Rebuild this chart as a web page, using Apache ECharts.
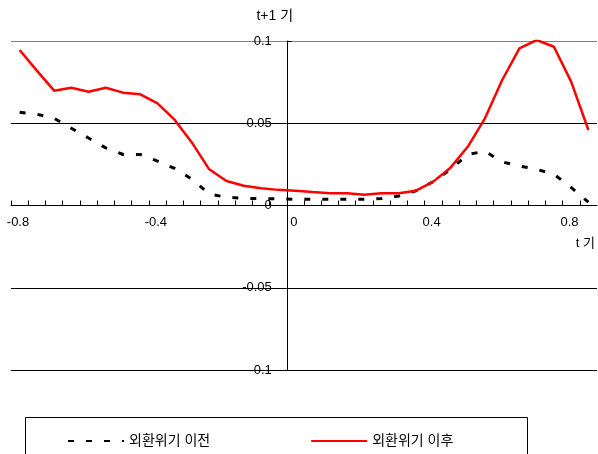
<!DOCTYPE html>
<html>
<head>
<meta charset="utf-8">
<script src="https://cdn.jsdelivr.net/npm/echarts@6/dist/echarts.min.js"></script>
<style>
  html, body { margin: 0; padding: 0; background: #fff; }
  #chart { width: 598px; height: 454px; }
</style>
</head>
<body>
<div id="chart"></div>
<script>
// t 기 (x) values, bin centres
var xVals = [-0.775, -0.725, -0.675, -0.625, -0.575, -0.525, -0.475, -0.425, -0.375, -0.325,
             -0.275, -0.225, -0.175, -0.125, -0.075, -0.025, 0.025, 0.075, 0.125, 0.175,
             0.225, 0.275, 0.325, 0.375, 0.425, 0.475, 0.525, 0.575, 0.625, 0.675,
             0.725, 0.775, 0.825, 0.875];
// 외환위기 이전
var beforeVals = [0.0567, 0.0555, 0.053, 0.047, 0.041, 0.035, 0.031, 0.031, 0.027, 0.0225,
                  0.016, 0.007, 0.005, 0.0044, 0.0042, 0.004, 0.0038, 0.0038, 0.0038, 0.0038,
                  0.0038, 0.0042, 0.0058, 0.009, 0.0145, 0.022, 0.031, 0.033, 0.0265, 0.024,
                  0.022, 0.019, 0.011, 0.002];
// 외환위기 이후
var afterVals = [0.0945, 0.082, 0.0698, 0.0716, 0.0692, 0.0716, 0.0686, 0.0676, 0.0621, 0.052,
                 0.0382, 0.022, 0.0149, 0.012, 0.0105, 0.0095, 0.009, 0.0082, 0.0075, 0.0074,
                 0.0066, 0.0074, 0.0075, 0.009, 0.0145, 0.023, 0.0357, 0.053, 0.0763, 0.0955,
                 0.1006, 0.0965, 0.0753, 0.0459];
var xLabels = [-0.8, -0.4, 0, 0.4, 0.8];
var seriesNames = ['외환위기 이전', '외환위기 이후'];

var font = '"Liberation Sans", Arial, "Noto Sans CJK KR", sans-serif';

// plot box
var G = { left: 11, right: 1, top: 41, bottom: 84, w: 586, h: 329 };
var xMin = -0.8, xMax = 0.9, yMin = -0.1, yMax = 0.1;
// axes cross at (0, 0): shift them there
var yAxisShift = (0 - xMin) / (xMax - xMin) * G.w;
var xAxisShift = (0 - yMin) / (yMax - yMin) * G.h;

function pairs(ys) {
    return xVals.map(function (x, i) { return [x, ys[i]]; });
}

var chart = echarts.init(document.getElementById('chart'));
var option = {
    animation: false,
    textStyle: { fontFamily: font },
    grid: {
        left: G.left,
        right: G.right,
        top: G.top,
        bottom: G.bottom,
        outerBoundsMode: 'none'
    },
    legend: {
        left: 62,
        top: 429,
        itemWidth: 56,
        itemHeight: 14,
        itemGap: 100,
        itemStyle: { color: 'transparent', borderWidth: 0 },
        textStyle: { fontSize: 14, color: '#000', fontFamily: font },
        data: seriesNames
    },
    graphic: [
        {
            type: 'rect',
            shape: { x: 25.5, y: 417.5, width: 502, height: 60 },
            style: { fill: 'none', stroke: '#000', lineWidth: 1 }
        }
    ],
    xAxis: {
        type: 'value',
        min: xMin,
        max: xMax,
        interval: 0.05,
        position: 'bottom',
        offset: -xAxisShift,
        name: 't 기',
        nameLocation: 'end',
        nameGap: -2,
        nameTextStyle: {
            fontSize: 13, color: '#000', align: 'right', verticalAlign: 'top',
            padding: [31, 0, 0, 0]
        },
        axisLine: { onZero: false, lineStyle: { color: '#000', width: 1 } },
        axisTick: { inside: true, length: 5, lineStyle: { color: '#000' } },
        axisLabel: {
            fontSize: 13,
            color: '#000',
            margin: 10,
            padding: [0, 0, 0, 14],
            showMaxLabel: false,
            formatter: function (v) {
                for (var i = 0; i < xLabels.length; i++) {
                    if (Math.abs(v - xLabels[i]) < 1e-6) return String(xLabels[i]);
                }
                return '';
            }
        },
        splitLine: { show: false }
    },
    yAxis: {
        type: 'value',
        min: yMin,
        max: yMax,
        interval: 0.05,
        position: 'left',
        offset: -yAxisShift,
        name: 't+1 기',
        nameLocation: 'end',
        nameGap: 18,
        nameTextStyle: { fontSize: 14, color: '#000', padding: [0, 24, 0, 0] },
        axisLine: { onZero: false, lineStyle: { color: '#000', width: 1 } },
        axisTick: { inside: true, length: 5, lineStyle: { color: '#000' } },
        axisLabel: { fontSize: 13, color: '#000', margin: 15 },
        splitLine: {
            show: true,
            lineStyle: { color: ['#000', '#000', '#000', '#000', '#808080'], width: 1 }
        }
    },
    series: [
        {
            name: seriesNames[0],
            type: 'line',
            symbol: 'none',
            data: pairs(beforeVals),
            lineStyle: { color: '#000', width: 3, type: [6, 12] },
            itemStyle: { color: '#000' },
            z: 3
        },
        {
            name: seriesNames[1],
            type: 'line',
            symbol: 'none',
            data: pairs(afterVals),
            lineStyle: { color: '#ff0000', width: 2.5 },
            itemStyle: { color: '#ff0000' },
            z: 4
        }
    ]
};
chart.setOption(option);
</script>
</body>
</html>
